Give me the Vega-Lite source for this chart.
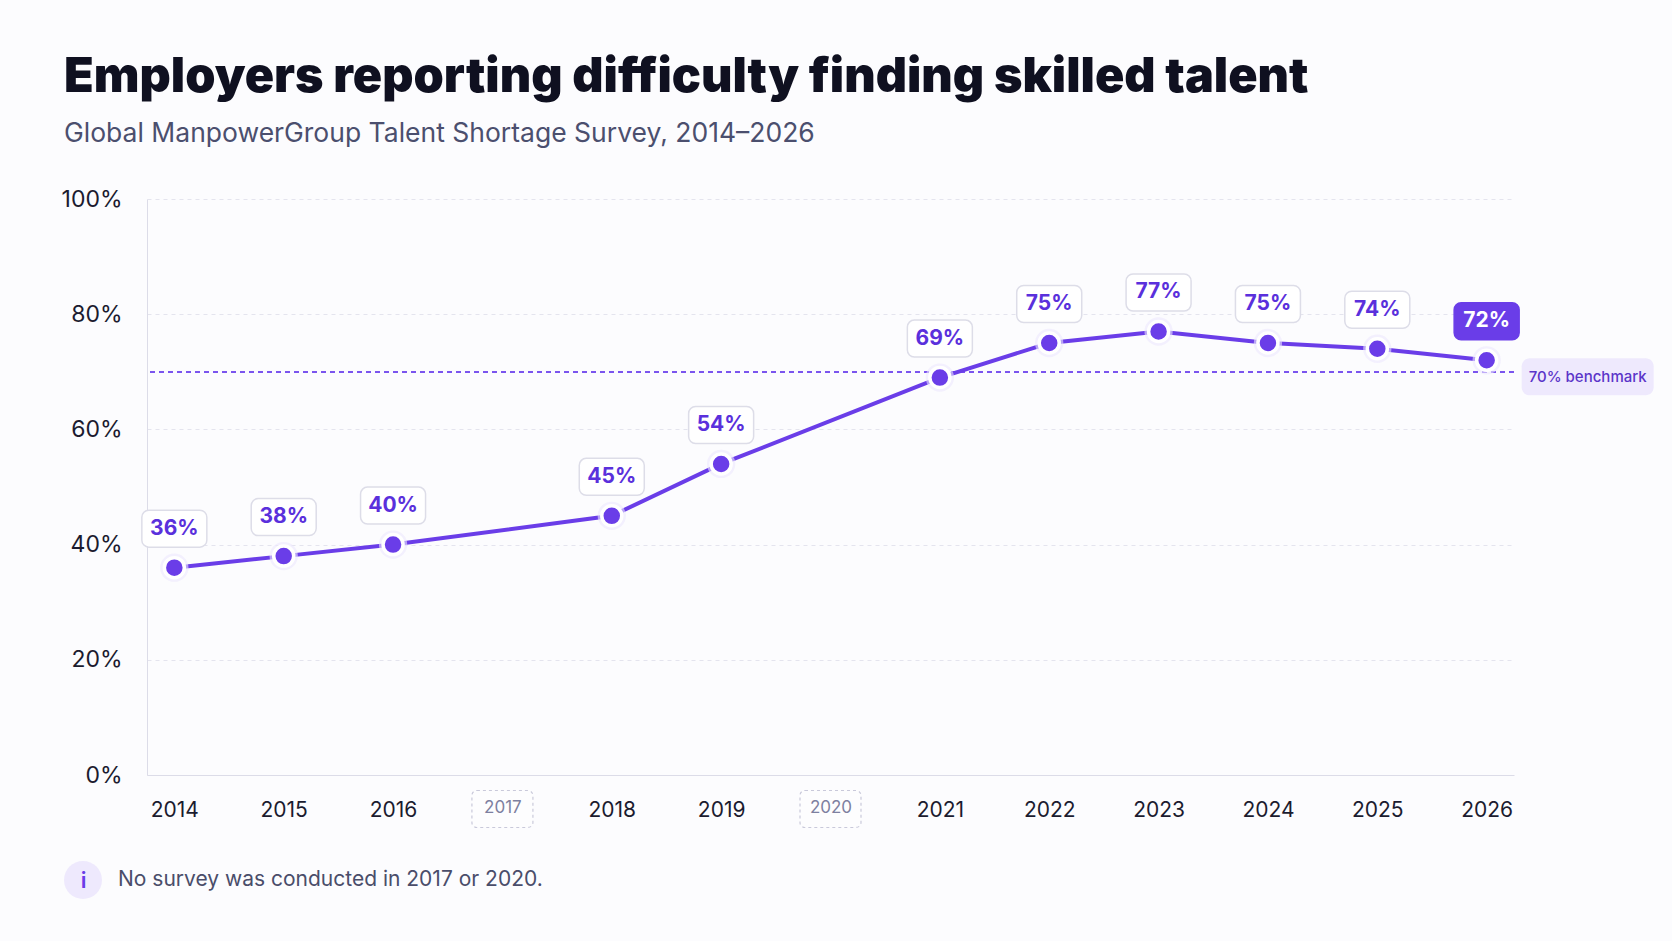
{
  "$schema": "https://vega.github.io/schema/vega-lite/v6.json",
  "autosize": {"type": "none"},
  "width": 1367,
  "height": 576,
  "padding": {"left": 147, "top": 199, "right": 158, "bottom": 166},
  "background": "#fcfcfe",
  "title": {
    "text": "Employers reporting difficulty finding skilled talent",
    "subtitle": "Global ManpowerGroup Talent Shortage Survey, 2014–2026",
    "anchor": "start",
    "frame": "group",
    "dx": -83,
    "offset": 40,
    "font": "Inter",
    "fontSize": 48.5,
    "fontWeight": 900,
    "color": "#0f1020",
    "subtitleFont": "Inter",
    "subtitleFontSize": 26.5,
    "subtitleFontWeight": 400,
    "subtitleColor": "#4b4f6e",
    "subtitlePadding": 18
  },
  "data": {
    "values": [
      {"year": 2014, "value": 36},
      {"year": 2015, "value": 38},
      {"year": 2016, "value": 40},
      {"year": 2018, "value": 45},
      {"year": 2019, "value": 54},
      {"year": 2021, "value": 69},
      {"year": 2022, "value": 75},
      {"year": 2023, "value": 77},
      {"year": 2024, "value": 75},
      {"year": 2025, "value": 74},
      {"year": 2026, "value": 72}
    ]
  },
  "transform": [{"calculate": "datum.value + '%'", "as": "label"}],
  "layer": [
    {
      "mark": {"type": "rule", "stroke": "#7b55ee", "strokeWidth": 1.5, "strokeDash": [5, 4]},
      "encoding": {
        "y": {
          "datum": 70,
          "type": "quantitative",
          "scale": {"domain": [0, 100], "nice": false},
          "axis": {
            "values": [0, 20, 40, 60, 80, 100],
            "labelExpr": "datum.value + '%'",
            "title": null,
            "grid": true,
            "gridDash": [4, 4],
            "gridColor": "#e4e4ee",
            "domain": true,
            "domainColor": "#dcdce8",
            "ticks": false,
            "labelPadding": 25,
            "labelFont": "Inter",
            "labelFontSize": 23,
            "labelColor": "#1b1b2f"
          }
        }
      }
    },
    {
      "data": {"values": [{"year": 2017}, {"year": 2020}]},
      "mark": {"type": "rect", "width": 61, "height": 37, "cornerRadius": 5, "fill": "#ffffff", "fillOpacity": 0.4, "stroke": "#c9c9da", "strokeWidth": 1.2, "strokeDash": [3, 3]},
      "encoding": {
        "x": {
          "field": "year",
          "type": "ordinal",
          "scale": {"type": "point", "domain": [2014, 2015, 2016, 2017, 2018, 2019, 2020, 2021, 2022, 2023, 2024, 2025, 2026], "padding": 0.25},
          "axis": {
            "title": "i",
            "titleX": -64,
            "titleY": 105,
            "titleAlign": "center",
            "titleBaseline": "middle",
            "titleFont": "Inter",
            "titleFontSize": 22,
            "titleFontWeight": 600,
            "titleColor": "#6a3de8",
            "labelAngle": 0,
            "grid": false,
            "ticks": false,
            "domain": true,
            "domainColor": "#dcdce8",
            "labelPadding": 24,
            "labelFont": "Inter",
            "labelFontSize": {"condition": {"test": "datum.value === 2017 || datum.value === 2020", "value": 17}, "value": 21},
            "labelColor": {"condition": {"test": "datum.value === 2017 || datum.value === 2020", "value": "#7d80a0"}, "value": "#1b1b2f"}
          }
        },
        "y": {"datum": -5.9, "type": "quantitative"}
      }
    },
    {
      "mark": {"type": "line", "stroke": "#6a3de8", "strokeWidth": 4},
      "encoding": {
        "x": {"field": "year", "type": "ordinal"},
        "y": {"field": "value", "type": "quantitative"}
      }
    },
    {
      "mark": {"type": "point", "filled": true, "size": 800, "fill": "#ece7fd", "opacity": 0.6},
      "encoding": {
        "x": {"field": "year", "type": "ordinal"},
        "y": {"field": "value", "type": "quantitative"}
      }
    },
    {
      "mark": {"type": "point", "filled": true, "size": 400, "fill": "#6a3de8", "stroke": "#ffffff", "strokeWidth": 3.5, "opacity": 1},
      "encoding": {
        "x": {"field": "year", "type": "ordinal"},
        "y": {"field": "value", "type": "quantitative"}
      }
    },
    {
      "mark": {"type": "rect", "width": 65, "height": 37, "cornerRadius": 7, "yOffset": -39, "strokeWidth": 1.5},
      "encoding": {
        "x": {"field": "year", "type": "ordinal"},
        "y": {"field": "value", "type": "quantitative"},
        "fill": {"condition": {"test": "datum.year === 2026", "value": "#6a3de8"}, "value": "#ffffff"},
        "stroke": {"condition": {"test": "datum.year === 2026", "value": "#6a3de8"}, "value": "#dddde8"}
      }
    },
    {
      "mark": {"type": "text", "yOffset": -39, "font": "Inter", "fontSize": 21, "fontWeight": 700, "align": "center", "baseline": "middle"},
      "encoding": {
        "x": {"field": "year", "type": "ordinal"},
        "y": {"field": "value", "type": "quantitative"},
        "text": {"field": "label"},
        "color": {"condition": {"test": "datum.year === 2026", "value": "#ffffff"}, "value": "#5a30dc"}
      }
    },
    {
      "data": {"values": [{"label": "70% benchmark"}]},
      "mark": {"type": "rect", "width": 132, "height": 37, "cornerRadius": 8, "xOffset": 101, "yOffset": 5},
      "encoding": {
        "x": {"datum": 2026, "type": "ordinal"},
        "y": {"datum": 70, "type": "quantitative"},
        "fill": {
          "datum": "No survey was conducted in 2017 or 2020.",
          "type": "nominal",
          "scale": {"range": ["#eee9fd"]},
          "legend": {
            "orient": "none",
            "legendX": -83,
            "legendY": 662,
            "title": null,
            "padding": 0,
            "symbolType": "circle",
            "symbolSize": 1444,
            "symbolStrokeWidth": 0,
            "symbolOpacity": 1,
            "labelFont": "Inter",
            "labelFontSize": 21,
            "labelColor": "#4a4d6a",
            "labelOffset": 16,
            "labelLimit": 800
          }
        }
      }
    },
    {
      "data": {"values": [{"label": "70% benchmark"}]},
      "mark": {"type": "text", "xOffset": 101, "yOffset": 5, "font": "Inter", "fontSize": 15, "fontWeight": 500, "color": "#5b35c9", "align": "center", "baseline": "middle"},
      "encoding": {
        "x": {"datum": 2026, "type": "ordinal"},
        "y": {"datum": 70, "type": "quantitative"},
        "text": {"field": "label"}
      }
    }
  ],
  "config": {
    "view": {"stroke": null}
  }
}
